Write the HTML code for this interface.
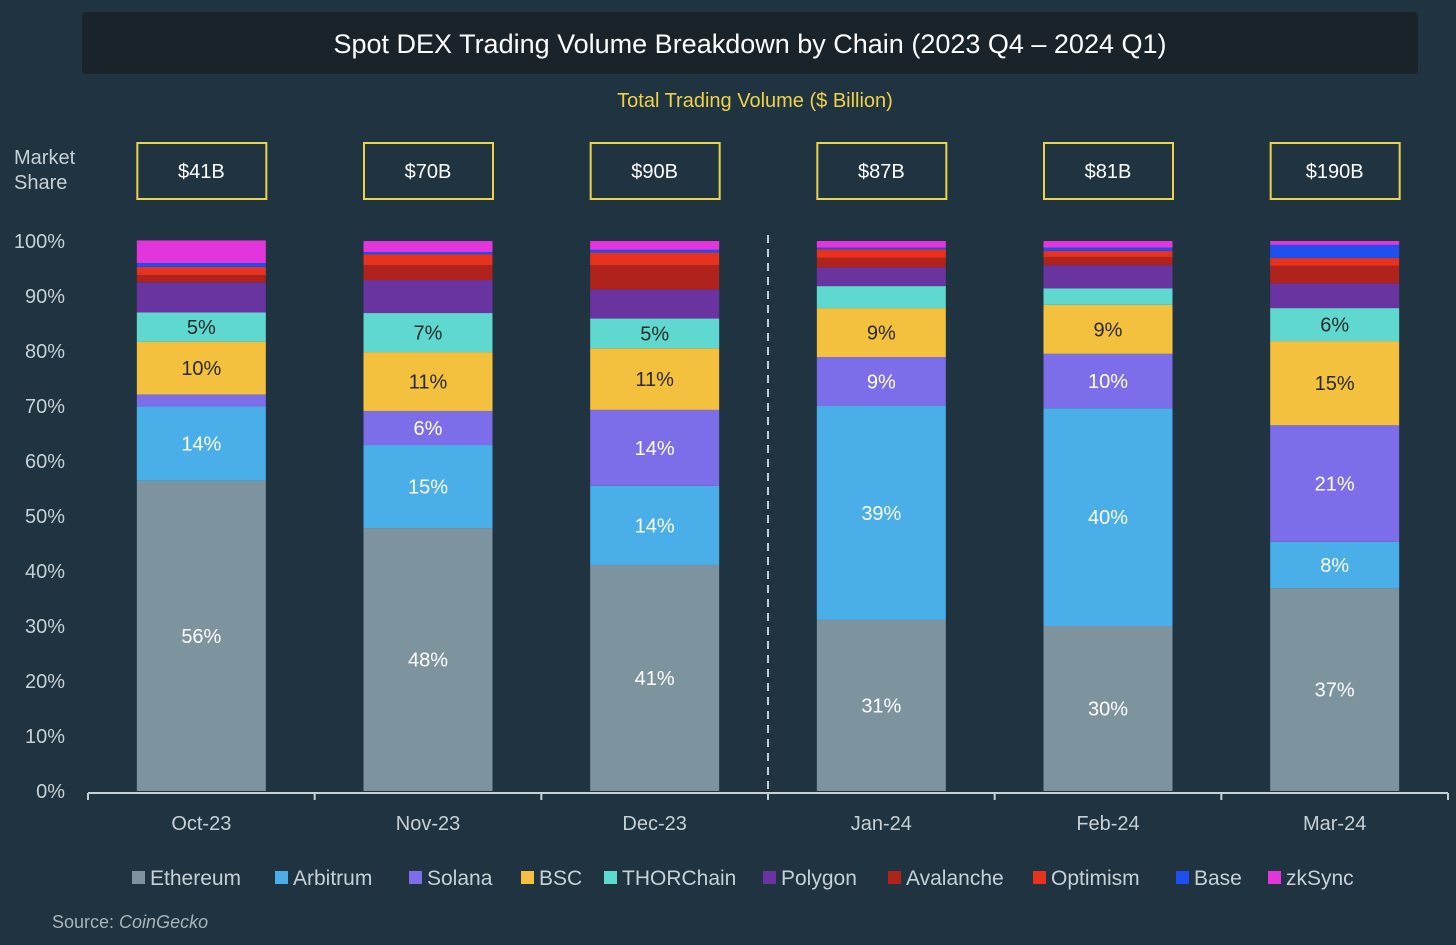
<!DOCTYPE html>
<html><head><meta charset="utf-8"><style>
body{margin:0;background:#1f3340;width:1456px;height:945px;overflow:hidden;font-family:"Liberation Sans","DejaVu Sans",sans-serif}
</style></head><body>
<svg id="c" width="1456" height="945" style="display:block">
<rect x="0" y="0" width="1456" height="945" fill="#1f3340"/>
<rect x="82" y="12" width="1336" height="62" rx="4" fill="#1a2329"/>
<text x="750" y="53" text-anchor="middle" fill="#ffffff" font-size="27">Spot DEX Trading Volume Breakdown by Chain (2023 Q4 – 2024 Q1)</text>
<text x="755" y="107" text-anchor="middle" fill="#f0d24a" font-size="20">Total Trading Volume ($ Billion)</text>
<text x="14" y="164" fill="#c7d0d5" font-size="20">Market</text>
<text x="14" y="189" fill="#c7d0d5" font-size="20">Share</text>
<g id="plot"></g>
<text x="52" y="928" fill="#aab4ba" font-size="18">Source: <tspan font-style="italic">CoinGecko</tspan></text>
</svg>
<script>
const categories=["Oct-23","Nov-23","Dec-23","Jan-24","Feb-24","Mar-24"];
const totals=["$41B","$70B","$90B","$87B","$81B","$190B"];
const seriesNames=["Ethereum","Arbitrum","Solana","BSC","THORChain","Polygon","Avalanche","Optimism","Base","zkSync"];
const ethereum=[56.4,47.8,41.1,31.1,30.0,36.9];
const arbitrum=[13.5,15.1,14.4,38.9,39.6,8.4];
const solana=[2.2,6.2,13.8,8.9,9.9,21.2];
const bsc=[9.6,10.7,11.2,8.9,8.9,15.3];
const thorchain=[5.3,7.1,5.4,4.0,3.0,6.0];
const polygon=[5.5,6.0,5.3,3.4,4.2,4.5];
const avalanche=[1.3,2.7,4.4,1.8,1.5,3.2];
const optimism=[1.5,2.0,2.3,1.5,1.1,1.4];
const base=[0.7,0.4,0.5,0.3,0.6,2.4];
const zksync=[4.1,2.0,1.6,1.2,1.2,0.7];
const yTicks=[0,10,20,30,40,50,60,70,80,90,100];
const series=[ethereum,arbitrum,solana,bsc,thorchain,polygon,avalanche,optimism,base,zksync];
const colors=["#7d939e","#4aaee8","#7b6ee8","#f4c13e","#5fd9cf","#6a34a0","#b0221c","#e8321f","#1f4fef","#e236dc"];
const labelColors=["#fff","#fff","#fff","#2a2a2a","#2a2a2a"];
const NS="http://www.w3.org/2000/svg";
const g=document.getElementById('plot');
const x0=88,x1=1448,yBase=791,yTop=241,bw=129;
const step=(x1-x0)/categories.length;
const y=v=>yBase-(v/100)*(yBase-yTop);
const xc=i=>x0+step*(i+0.5);
function mk(t,a){const e=document.createElementNS(NS,t);for(const k in a)e.setAttribute(k,a[k]);g.appendChild(e);return e;}
yTicks.forEach(t=>{const e=mk('text',{x:65,y:y(t)+7,'text-anchor':'end',fill:'#c7d0d5','font-size':20});e.textContent=t+'%';

});
categories.forEach((c,i)=>{
  let acc=0;
  series.forEach((s,k)=>{
    const v=s[i];
    const r=mk('rect',{x:xc(i)-bw/2,y:y(acc+v),width:bw,height:y(acc)-y(acc+v),fill:colors[k]});
    
    
    if(k<5&&v>=4.5){const t=mk('text',{x:xc(i),y:(y(acc)+y(acc+v))/2+7,'text-anchor':'middle',fill:labelColors[k],'font-size':20});
      t.textContent=Math.round(v)+'%';
      
      }
    acc+=v;
  });
  const b=mk('rect',{x:xc(i)-64,y:143,width:129,height:56,fill:'none',stroke:'#e8d44d','stroke-width':2});
  
  
  const tt=mk('text',{x:xc(i),y:178,'text-anchor':'middle',fill:'#fff','font-size':20});tt.textContent=totals[i];
  
  
  const xl=mk('text',{x:xc(i),y:830,'text-anchor':'middle',fill:'#c7d0d5','font-size':20});xl.textContent=c;
  
  
});
const ax=mk('line',{x1:x0,y1:yBase+2,x2:x1,y2:yBase+2,stroke:'#c7d0d5','stroke-width':2});


for(let i=0;i<=categories.length;i++){const tk=mk('line',{x1:x0+step*i,y1:yBase+2,x2:x0+step*i,y2:yBase+9,stroke:'#c7d0d5','stroke-width':2});

}
const dl=mk('line',{x1:x0+step*3,y1:235,x2:x0+step*3,y2:yBase,stroke:'#c7d0d5','stroke-width':2,'stroke-dasharray':'8,6'});


const lx=[132,275,409,521,604,763,888,1033,1176,1268];
seriesNames.forEach((n,k)=>{
  const r=mk('rect',{x:lx[k],y:871,width:13,height:13,fill:colors[k]});
  
  
  const t=mk('text',{x:lx[k]+18,y:885,fill:'#c7d0d5','font-size':21});t.textContent=n;
  
  
});
</script>
</body></html>
